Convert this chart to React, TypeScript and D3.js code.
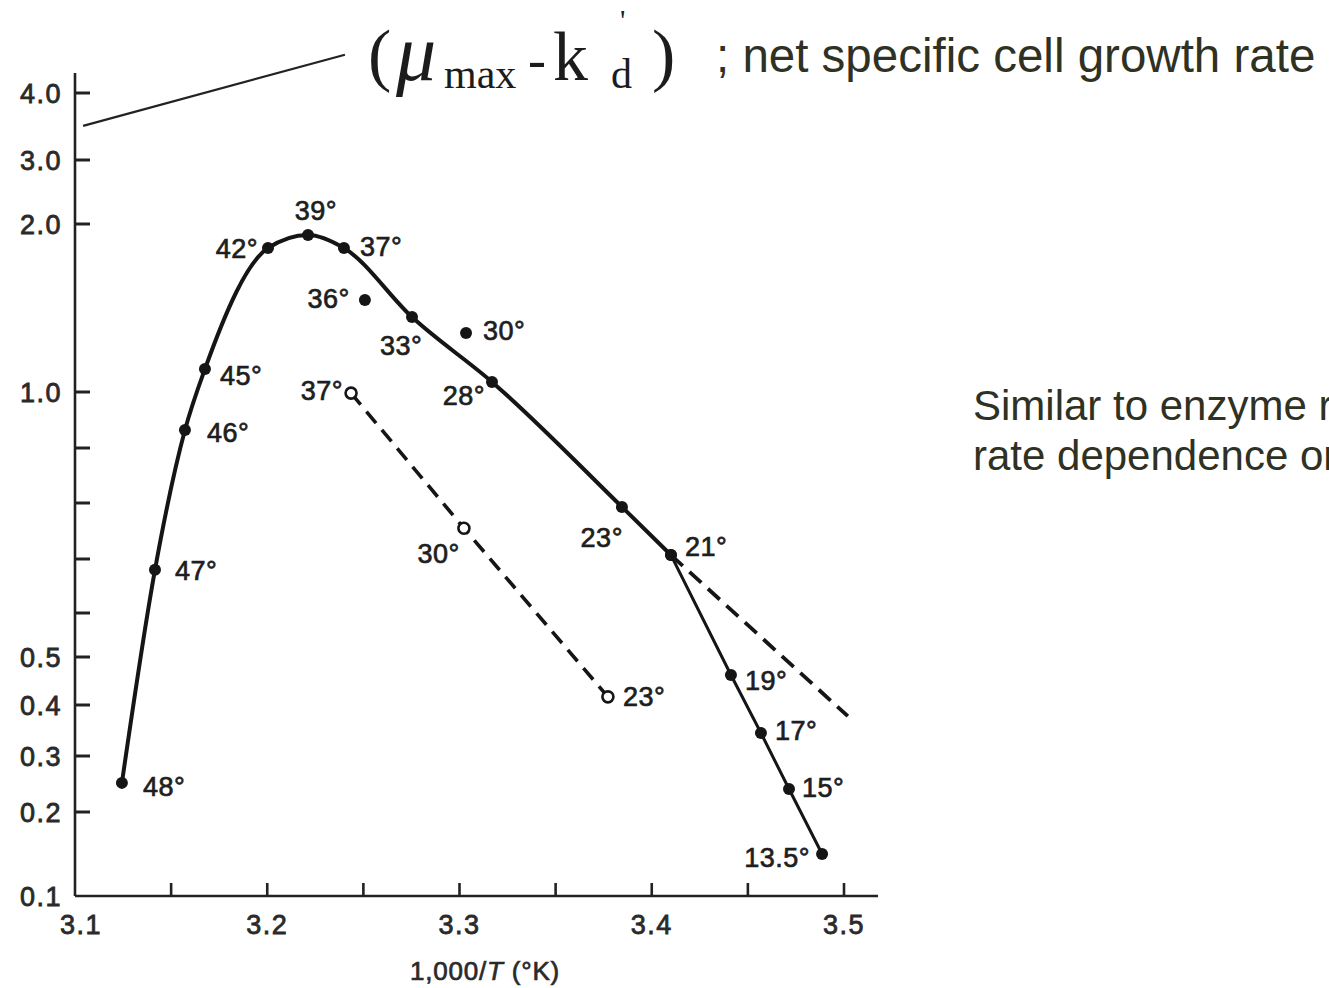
import React from "react";
import * as d3 from "d3";

// ---- data ----
// solid curve (smooth part)
const curveTemps = ["48°", "47°", "46°", "45°", "42°", "39°", "37°", "33°", "28°", "23°", "21°"];
const curveX = [3.1244, 3.1416, 3.1572, 3.1676, 3.2004, 3.2212, 3.2399, 3.2753, 3.3169, 3.3845, 3.41];
const curveY = [0.252, 0.68, 0.932, 1.137, 1.857, 1.935, 1.857, 1.446, 1.06, 0.793, 0.707];
// solid straight tail below 21°
const tailTemps = ["21°", "19°", "17°", "15°", "13.5°"];
const tailX = [3.41, 3.4412, 3.4568, 3.4714, 3.4886];
const tailY = [0.707, 0.4625, 0.345, 0.241, 0.15];
// isolated solid points
const isoTemps = ["36°", "30°"];
const isoX = [3.2508, 3.3034];
const isoY = [1.548, 1.351];
// open-circle dashed series
const openTemps = ["37°", "30°", "23°"];
const openX = [3.2436, 3.3023, 3.3772];
const openY = [0.998, 0.755, 0.417];
// dashed extrapolation from 21°
const extX = [3.41, 3.502];
const extY = [0.707, 0.378];
// annotation pointer line
const pointerX = [3.1042, 3.2404];
const pointerY = [3.51, 4.57];

// axes
const xTickValues = [3.1, 3.15, 3.2, 3.25, 3.3, 3.35, 3.4, 3.45, 3.5];
const xTickLabels = ["3.1", "", "3.2", "", "3.3", "", "3.4", "", "3.5"];
const yTickValues = [0.1, 0.2, 0.3, 0.4, 0.5, 0.6, 0.7, 0.8, 0.9, 1.0, 2.0, 3.0, 4.0];
const yTickLabels = ["0.1", "0.2", "0.3", "0.4", "0.5", "", "", "", "", "1.0", "2.0", "3.0", "4.0"];
// the printed (non-uniform) vertical scale, as measured along the axis
const yScalePixels = [896, 812, 756, 705, 657, 613, 559, 503, 448, 392, 224, 160, 93];

// ---- label placement (layout only) ----
const labelPlace: Record<string, [number, number, string]> = {
  "c48°": [21, 13, "start"],
  "c47°": [20, 10, "start"],
  "c46°": [22, 12, "start"],
  "c45°": [15, 16, "start"],
  "c42°": [-10, 10, "end"],
  "c39°": [8, -15, "middle"],
  "c37°": [16, 8, "start"],
  "c33°": [-32, 38, "start"],
  "c28°": [-7, 23, "end"],
  "c23°": [1, 40, "end"],
  "t21°": [14, 1, "start"],
  "t19°": [14, 15, "start"],
  "t17°": [14, 7, "start"],
  "t15°": [13, 8, "start"],
  "t13.5°": [-12, 13, "end"],
  "i36°": [-15, 8, "end"],
  "i30°": [17, 7, "start"],
  "o37°": [-8, 7, "end"],
  "o30°": [-4, 35, "end"],
  "o23°": [15, 9, "start"],
};

const W = 1329;
const H = 988;
const INK = "#151515";
const SANS = "'Liberation Sans', Arial, Helvetica, sans-serif";
const SERIF = "'Liberation Serif', 'Times New Roman', serif";

export default function App() {
  const x = d3.scaleLinear().domain([3.1, 3.5]).range([75, 844]);
  const y = d3.scaleLinear().domain(yTickValues).range(yScalePixels);
  const x0 = x(3.1);
  const yBase = y(0.1);
  const yTop = y(4.0) - 20;
  const xEnd = 878;

  const curvePts: [number, number][] = curveX.map((v, i) => [x(v), y(curveY[i])]);
  const tailPts: [number, number][] = tailX.map((v, i) => [x(v), y(tailY[i])]);
  const openPts: [number, number][] = openX.map((v, i) => [x(v), y(openY[i])]);
  const extPts: [number, number][] = extX.map((v, i) => [x(v), y(extY[i])]);

  const smooth = d3.line().curve(d3.curveMonotoneX);
  const straight = d3.line();

  const labelStyle = {
    fontFamily: SANS,
    fontSize: 27,
    fill: "#1e1e1e",
    stroke: "#1e1e1e",
    strokeWidth: 0.7,
    letterSpacing: 0.5,
  } as React.CSSProperties;

  const tickStyle = {
    fontFamily: SANS,
    fontSize: 27,
    fill: "#2a2a2a",
    stroke: "#2a2a2a",
    strokeWidth: 0.8,
    letterSpacing: 1.5,
  } as React.CSSProperties;

  const renderLabel = (key: string, t: string, px: number, py: number) => {
    const p = labelPlace[key] || [10, 8, "start"];
    return (
      <text key={key} x={px + p[0]} y={py + p[1]} textAnchor={p[2] as any} style={labelStyle}>
        {t}
      </text>
    );
  };

  return (
    <div
      style={{
        position: "absolute",
        left: 0,
        top: 0,
        width: W,
        height: H,
        overflow: "hidden",
        background: "#ffffff",
      }}
    >
      <svg width={W} height={H} viewBox={`0 0 ${W} ${H}`} style={{ display: "block" }}>
        <rect x={0} y={0} width={W} height={H} fill="#ffffff" />

        {/* axes */}
        <line x1={x0} y1={yTop} x2={x0} y2={yBase} stroke="#222" strokeWidth={2.6} />
        <line x1={x0} y1={yBase} x2={xEnd} y2={yBase} stroke="#222" strokeWidth={2.6} />

        {yTickValues.map((v, i) => (
          <g key={"yt" + i}>
            {v !== 0.1 && (
              <line x1={x0} x2={x0 + 15} y1={y(v)} y2={y(v)} stroke="#222" strokeWidth={3} />
            )}
            {yTickLabels[i] && (
              <text x={62} y={y(v) + 10} textAnchor="end" style={tickStyle}>
                {yTickLabels[i]}
              </text>
            )}
          </g>
        ))}

        {xTickValues.map((v, i) => (
          <g key={"xt" + i}>
            {v !== 3.1 && (
              <line x1={x(v)} x2={x(v)} y1={yBase} y2={yBase - 13} stroke="#222" strokeWidth={2.6} />
            )}
            {xTickLabels[i] && (
              <text x={x(v) + (i === 0 ? 6 : 0)} y={934} textAnchor="middle" style={tickStyle}>
                {xTickLabels[i]}
              </text>
            )}
          </g>
        ))}

        <text
          x={485}
          y={980}
          textAnchor="middle"
          style={{ fontFamily: SANS, fontSize: 26, fill: "#2a2a2a", stroke: "#2a2a2a", strokeWidth: 0.7, letterSpacing: 0.8 }}
        >
          1,000/<tspan fontStyle="italic">T</tspan> (°K)
        </text>

        {/* curves */}
        <path d={smooth(curvePts) || ""} fill="none" stroke={INK} strokeWidth={4} strokeLinejoin="round" />
        <path d={straight(tailPts) || ""} fill="none" stroke={INK} strokeWidth={3} />
        <path d={straight(extPts) || ""} fill="none" stroke={INK} strokeWidth={3.8} strokeDasharray="16 9" />
        <path d={straight(openPts) || ""} fill="none" stroke={INK} strokeWidth={3.6} strokeDasharray="15 9" />

        {/* points */}
        {curvePts.map((p, i) => (
          <circle key={"cp" + i} cx={p[0]} cy={p[1]} r={6} fill={INK} />
        ))}
        {tailPts.map((p, i) => (
          <circle key={"tp" + i} cx={p[0]} cy={p[1]} r={6} fill={INK} />
        ))}
        {isoX.map((v, i) => (
          <circle key={"ip" + i} cx={x(v)} cy={y(isoY[i])} r={6} fill={INK} />
        ))}
        {openPts.map((p, i) => (
          <circle key={"op" + i} cx={p[0]} cy={p[1]} r={5.5} fill="#fff" stroke={INK} strokeWidth={2.6} />
        ))}

        {/* labels */}
        {curveTemps.map((t, i) =>
          t === "21°" ? null : renderLabel("c" + t, t, curvePts[i][0], curvePts[i][1])
        )}
        {tailTemps.map((t, i) => renderLabel("t" + t, t, tailPts[i][0], tailPts[i][1]))}
        {isoTemps.map((t, i) => renderLabel("i" + t, t, x(isoX[i]), y(isoY[i])))}
        {openTemps.map((t, i) => renderLabel("o" + t, t, openPts[i][0], openPts[i][1]))}

        {/* annotation pointer */}
        <line
          x1={x(pointerX[0])}
          y1={y(pointerY[0])}
          x2={x(pointerX[1])}
          y2={y(pointerY[1])}
          stroke="#222"
          strokeWidth={2.2}
        />

        {/* formula (μmax - k'd) */}
        <g style={{ fill: "#1c1c1c" }}>
          <text x={368} y={78} style={{ fontFamily: SERIF, fontSize: 70 }}>(</text>
          <text x={396} y={80} style={{ fontFamily: SERIF, fontSize: 80, fontStyle: "italic" }}>μ</text>
          <text x={444} y={88} style={{ fontFamily: SERIF, fontSize: 42 }}>max</text>
          <text x={528} y={78} style={{ fontFamily: SERIF, fontSize: 54 }}>-</text>
          <text x={553} y={80} style={{ fontFamily: SERIF, fontSize: 70 }}>k</text>
          <text x={620} y={30} style={{ fontFamily: SERIF, fontSize: 30 }}>'</text>
          <text x={611} y={88} style={{ fontFamily: SERIF, fontSize: 42 }}>d</text>
          <text x={652} y={78} style={{ fontFamily: SERIF, fontSize: 70 }}>)</text>
        </g>
        <text x={716} y={72} style={{ fontFamily: SANS, fontSize: 47.5, fill: "#2f3122" }}>
          ; net specific cell growth rate
        </text>

        <text x={973} y={420} style={{ fontFamily: SANS, fontSize: 42, fill: "#2f3122" }}>
          Similar to enzyme reaction
        </text>
        <text x={973} y={470} style={{ fontFamily: SANS, fontSize: 42, fill: "#2f3122" }}>
          rate dependence on temperature
        </text>
      </svg>
    </div>
  );
}
